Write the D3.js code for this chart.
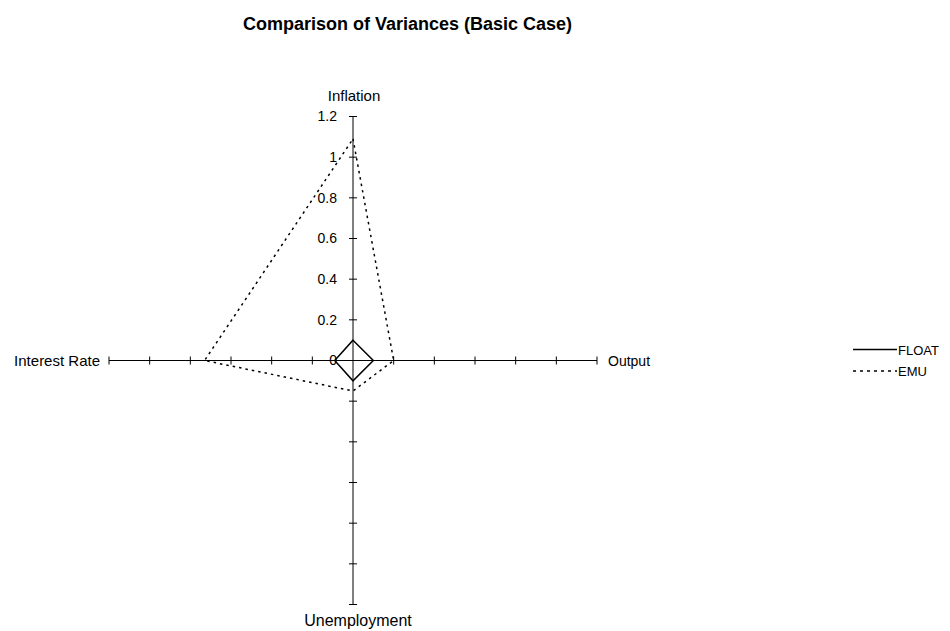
<!DOCTYPE html>
<html>
<head>
<meta charset="utf-8">
<script src="https://cdn.jsdelivr.net/npm/d3@7"></script>
<style>
  body { margin: 0; background: #fff; }
  text { font-family: "Liberation Sans", Arial, sans-serif; fill: #000; }
</style>
</head>
<body>
<div id="chart"></div>
<script>
// Data
const axisNames = ["Inflation", "Output", "Unemployment", "Interest Rate"];
const floatValues = [0.1, 0.1, 0.1, 0.09];
const emuValues = [1.09, 0.2, 0.15, 0.73];
const tickValues = [0, 0.2, 0.4, 0.6, 0.8, 1, 1.2];
const seriesNames = ["FLOAT", "EMU"];

(function() {
    const width = 950, height = 631;
    const cx = 353, cy = 360.5;

    const svg = d3.select("#chart")
        .append("svg")
        .attr("width", width)
        .attr("height", height);

    // Title
    svg.append("text")
        .attr("x", 407.5)
        .attr("y", 30)
        .attr("text-anchor", "middle")
        .style("font-size", "18px")
        .style("font-weight", "bold")
        .text("Comparison of Variances (Basic Case)");

    const r = d3.scaleLinear().domain([0, 1.2]).range([0, 244]);
    const angle = i => i * Math.PI / 2;

    const g = svg.append("g").attr("transform", `translate(${cx},${cy})`);

    // Axes with cross ticks
    axisNames.forEach((name, i) => {
        const a = angle(i);
        const sx = Math.sin(a), sy = -Math.cos(a);
        g.append("line")
            .attr("x1", 0).attr("y1", 0)
            .attr("x2", sx * r(1.2)).attr("y2", sy * r(1.2))
            .attr("stroke", "#000")
            .attr("stroke-width", 1);

        tickValues.slice(1).forEach(t => {
            const px = sx * r(t), py = sy * r(t);
            g.append("line")
                .attr("x1", px - sy * 4).attr("y1", py + sx * 4)
                .attr("x2", px + sy * 4).attr("y2", py - sx * 4)
                .attr("stroke", "#000")
                .attr("stroke-width", 1);
        });
    });

    // Tick labels on the Inflation axis
    g.selectAll(".tick-label")
        .data(tickValues)
        .enter()
        .append("text")
        .attr("class", "tick-label")
        .attr("x", -16)
        .attr("y", d => -r(d))
        .attr("dy", "0.35em")
        .attr("text-anchor", "end")
        .style("font-size", "14px")
        .text(d => d3.format("~g")(d));

    // Category labels
    const labelPos = [
        {x: 1, y: -r(1.2) - 16, anchor: "middle", size: 15},
        {x: r(1.2) + 11, y: 5, anchor: "start", size: 14},
        {x: 5, y: r(1.2) + 21.5, anchor: "middle", size: 16},
        {x: -r(1.2) - 9, y: 5, anchor: "end", size: 15}
    ];
    axisNames.forEach((name, i) => {
        g.append("text")
            .attr("x", labelPos[i].x)
            .attr("y", labelPos[i].y)
            .attr("text-anchor", labelPos[i].anchor)
            .style("font-size", labelPos[i].size + "px")
            .text(name);
    });

    // Series
    const radial = d3.lineRadial()
        .angle((d, i) => angle(i))
        .radius(d => r(d))
        .curve(d3.curveLinearClosed);

    g.append("path")
        .datum(floatValues)
        .attr("fill", "none")
        .attr("stroke", "#000")
        .attr("stroke-width", 1.5)
        .attr("d", radial);

    g.append("path")
        .datum(emuValues)
        .attr("fill", "none")
        .attr("stroke", "#000")
        .attr("stroke-width", 1.5)
        .attr("stroke-dasharray", "2.5,4")
        .attr("d", radial);

    // Legend
    const dash = {FLOAT: null, EMU: "3,4"};
    const legend = svg.append("g").attr("transform", "translate(853,349.5)");
    seriesNames.forEach((s, i) => {
        const row = legend.append("g").attr("transform", `translate(0,${i * 21.5})`);
        row.append("line")
            .attr("x1", 0).attr("x2", 44)
            .attr("y1", 0).attr("y2", 0)
            .attr("stroke", "#000")
            .attr("stroke-width", 1.5)
            .attr("stroke-dasharray", dash[s]);
        row.append("text")
            .attr("x", 45)
            .attr("y", 5)
            .style("font-size", "13px")
            .text(s);
    });
})();
</script>
</body>
</html>
